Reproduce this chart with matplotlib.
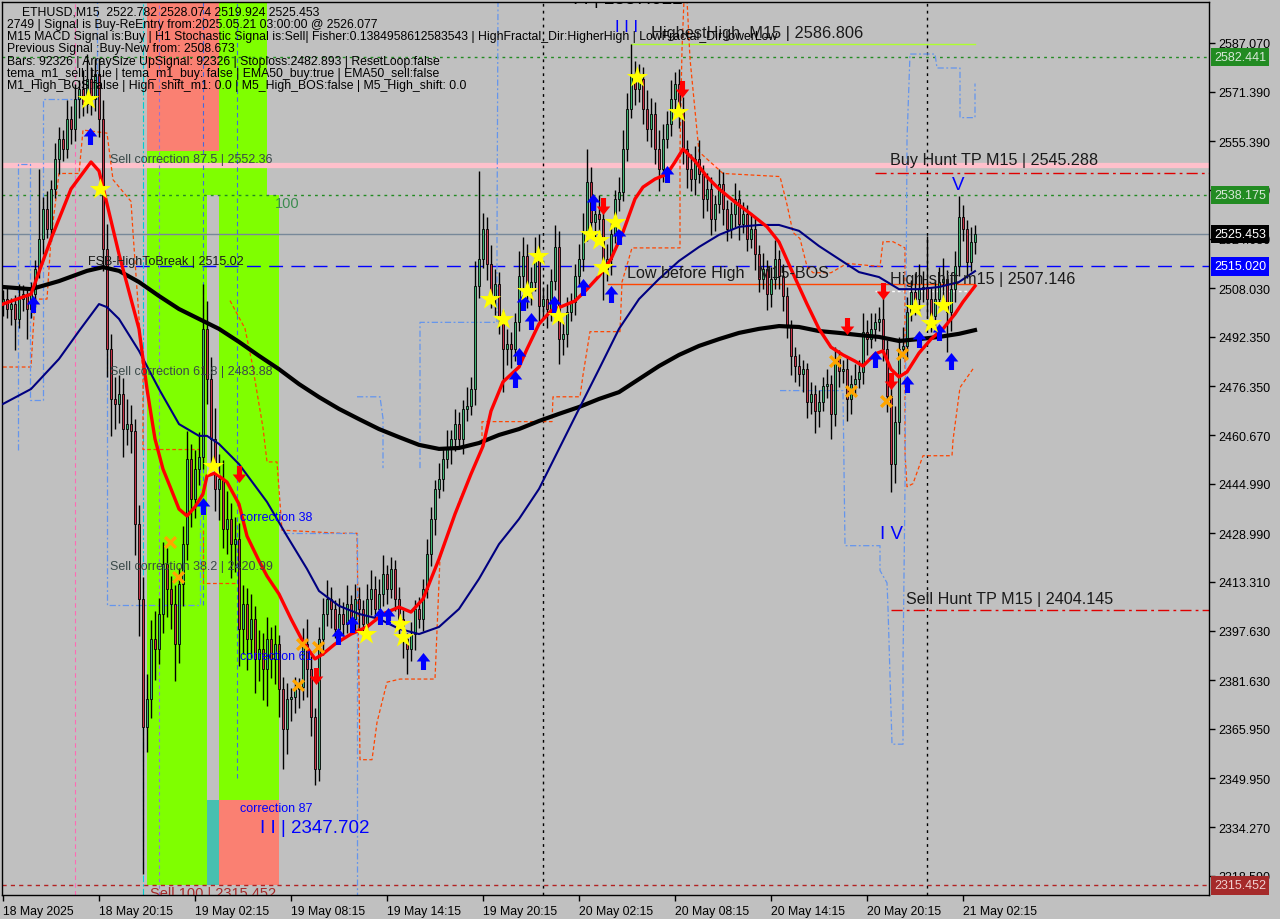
import numpy as np
import matplotlib
matplotlib.use('Agg')
import matplotlib.pyplot as plt
from matplotlib.path import Path
from matplotlib.transforms import blended_transform_factory

plt.rcParams['font.family'] = ['Liberation Sans', 'DejaVu Sans']

# ---------------- data ----------------
first_open = 2503.0
close = [2504.5, 2501.3, 2502.9, 2498.1, 2504.5, 2506.1, 2501.3, 2506.1, 2514.2, 2523.9,
         2533.5, 2527.1, 2540.0, 2549.7, 2556.1, 2552.9, 2562.6, 2559.4, 2569.0, 2572.2,
         2567.4, 2575.4, 2569.0, 2577.1, 2562.6, 2520.6, 2488.4, 2472.3, 2470.7, 2473.9,
         2462.6, 2464.2, 2462.0, 2432.0, 2407.8, 2366.5, 2375.6, 2394.9, 2391.7, 2403.0,
         2419.1, 2411.1, 2406.2, 2393.3, 2412.7, 2425.5, 2452.9, 2440.0, 2449.7, 2453.6,
         2494.9, 2478.7, 2459.4, 2443.3, 2446.5, 2430.4, 2433.6, 2425.5, 2427.2, 2398.2,
         2406.2, 2394.9, 2401.4, 2388.5, 2391.7, 2385.3, 2394.9, 2388.5, 2393.3, 2378.8,
         2365.9, 2375.6, 2376.2, 2378.8, 2379.4, 2393.3, 2385.3, 2369.8, 2353.0, 2394.9,
         2403.0, 2407.8, 2404.6, 2398.2, 2403.0, 2399.8, 2406.2, 2401.4, 2407.8, 2404.6,
         2399.8, 2407.8, 2411.1, 2404.6, 2409.4, 2415.9, 2411.1, 2417.5, 2407.8, 2401.4,
         2394.9, 2391.7, 2396.5, 2404.6, 2401.4, 2411.1, 2422.3, 2433.6, 2443.3, 2446.5,
         2452.9, 2456.2, 2459.4, 2464.2, 2459.4, 2469.1, 2470.1, 2475.5, 2508.7, 2517.4,
         2527.1, 2515.8, 2505.5, 2509.3, 2498.1, 2488.4, 2490.0, 2488.4, 2497.1, 2511.9,
         2518.4, 2507.7, 2510.0, 2517.4, 2502.2, 2504.5, 2501.3, 2510.3, 2521.3, 2491.6,
         2493.2, 2500.3, 2503.5, 2511.9, 2517.4, 2526.1, 2542.2, 2529.4, 2531.9, 2530.3,
         2514.2, 2517.4, 2525.5, 2536.8, 2539.0, 2552.9, 2565.8, 2577.1, 2572.2, 2575.4,
         2565.8, 2559.4, 2564.2, 2552.9, 2546.4, 2556.1, 2561.0, 2569.0, 2573.8, 2565.8,
         2552.9, 2546.4, 2543.2, 2549.7, 2544.8, 2536.8, 2540.0, 2530.3, 2535.2, 2541.6,
         2533.5, 2527.1, 2531.9, 2536.8, 2528.7, 2531.9, 2523.9, 2527.1, 2519.0, 2510.9,
         2514.2, 2506.1, 2510.9, 2517.4, 2511.9, 2505.5, 2495.8, 2486.1, 2482.9, 2480.4,
         2481.9, 2471.3, 2473.9, 2468.4, 2471.3, 2476.5, 2477.1, 2467.5, 2485.2, 2481.3,
         2481.9, 2472.3, 2477.1, 2478.7, 2481.0, 2493.9, 2491.6, 2494.9, 2497.1, 2498.1,
         2488.4, 2473.2, 2451.3, 2464.9, 2488.4, 2489.4, 2500.3, 2506.8, 2504.5, 2507.7,
         2508.4, 2504.5, 2499.0, 2504.5, 2510.0, 2510.9, 2500.3, 2507.7, 2515.1, 2530.9,
         2527.1, 2516.4, 2522.9, 2525.453]

wick_up = [3, 4, 2, 3, 5, 3, 2, 4, 3, 22.5,
           4, 6, 3, 5, 4, 3, 6, 4, 5, 3,
           6, 8, 4, 4.8, 5, 6, 8, 5, 7, 6,
           5, 8, 6, 4, 6, 7, 8, 6, 9, 5,
           7, 5, 4, 6, 5, 6, 9, 5, 6, 8,
           14.4, 9, 7, 10, 8, 6, 9, 5, 7, 5,
           6, 5, 8, 4, 6, 5, 7, 4, 6, 3,
           4, 5, 3, 4, 3, 5, 8, 4, 3, 4,
           5, 6, 4, 3, 5, 4, 6, 3, 5, 4,
           3, 5, 6, 4, 5, 6, 3, 4, 3, 4,
           3, 2, 4, 3, 4, 3, 5, 4, 3, 5,
           4, 6, 3, 5, 4, 3, 6, 4, 8, 28.4,
           5, 4, 6, 5, 4, 3, 5, 4, 3, 8,
           6, 4, 5, 7, 8, 4, 5, 4, 7, 5,
           4, 5, 3, 4, 5, 6, 10.7, 5, 4, 6,
           4, 5, 4, 3, 5, 6, 5, 9.7, 4, 5,
           4, 6, 5, 4, 6, 5, 4, 6, 4, 5,
           4, 3, 5, 4, 6, 3, 5, 4, 3, 5,
           4, 3, 4, 5, 3, 4, 3, 5, 4, 3,
           5, 3, 4, 6, 3, 4, 3, 2, 3, 4,
           3, 2, 4, 3, 4, 3, 5, 3, 4, 3,
           3, 4, 3, 5, 4, 6, 4, 5, 3, 4,
           9, 3, 4, 5, 4, 6, 5, 4, 6, 8,
           5, 16.4, 4, 6, 5, 7, 3, 4, 5, 6.9,
           4, 3, 5, 3]

wick_dn = [4, 3, 5, 10, 3, 4, 9.7, 3, 4, 3,
           5, 3, 4, 3, 5, 4, 3, 5, 4, 6,
           4, 3, 5, 4, 6, 7, 9, 12, 8, 6,
           9, 5, 7, 10, 12, 47.3, 8, 6, 10, 5,
           6, 9, 8, 12, 6, 7, 5, 9, 6, 5,
           4, 8, 9, 7, 10, 6, 8, 11, 9, 12,
           8, 10, 6, 11, 7, 10, 12, 6, 8, 9,
           13, 8, 7, 5, 6, 4, 9, 6, 5.3, 4,
           5, 4, 6, 3, 5, 4, 3, 5, 4, 6,
           4, 3, 5, 4, 3, 4, 5, 3, 4, 5,
           6, 8, 4, 5, 3, 4, 3, 4, 5, 3,
           4, 3, 5, 4, 3, 5, 4, 3, 5, 4,
           3, 5, 4, 6, 5, 13.9, 5, 6, 4, 3,
           4, 6, 5, 3, 5, 4, 6, 4, 3, 8,
           5, 4, 3, 4, 3, 4, 3, 5, 6, 4,
           10, 4, 5, 3, 4, 3, 4, 3, 5, 4,
           5, 4, 6, 5, 7, 4, 3, 4, 5, 6,
           5, 6, 4, 5, 3, 6, 4, 5, 4, 3,
           5, 4, 3, 4, 5, 3, 4, 3, 5, 4,
           3, 5, 4, 3, 4, 5, 4, 6, 5, 4,
           6, 5, 4, 7, 5, 3, 4, 8, 4, 5,
           4, 7, 5, 4, 3, 4, 5, 3, 4, 3,
           4, 5, 9, 6, 4, 3, 4, 3, 5, 4,
           4, 6, 5, 4, 3, 5, 12.9, 6, 4, 3,
           4, 5, 3, 4]

date_ticks = [0, 24, 48, 72, 96, 120, 144, 168, 192, 216, 240]
date_labels = ['18 May 2025', '18 May 20:15', '19 May 02:15', '19 May 08:15', '19 May 14:15',
               '19 May 20:15', '20 May 02:15', '20 May 08:15', '20 May 14:15', '20 May 20:15',
               '21 May 02:15']
price_ticks = [2587.07, 2571.39, 2555.39, 2539.71, 2524.03, 2508.03, 2492.35, 2476.35, 2460.67,
               2444.99, 2428.99, 2413.31, 2397.63, 2381.63, 2365.95, 2349.95, 2334.27, 2318.59]

# moving averages (read at key points)
ema_fast_x = [0, 7, 12, 17, 22, 24, 26, 29, 32, 34, 36, 38, 40, 42, 44, 46, 48, 50, 51, 53, 56, 59,
              61, 64, 66, 69, 72, 75, 78, 80, 83, 87, 91, 95, 99, 102, 105, 109, 113, 117, 120,
              122, 125, 129, 131, 134, 137, 140, 143, 146, 149, 152, 155, 158, 160, 163, 166, 168,
              170, 173, 176, 179, 183, 187, 191, 194, 197, 201, 204, 207, 210, 213, 215, 218, 220,
              222, 224, 226, 229, 232, 235, 238, 240, 243]
ema_fast_y = [2502.9, 2506.1, 2523.9, 2540.0, 2548.7, 2545.8, 2535.2, 2519.0, 2504.5, 2494.9,
              2475.5, 2459.4, 2449.7, 2443.3, 2436.8, 2434.6, 2437.5, 2441.7, 2447.5, 2448.4,
              2445.5, 2438.4, 2428.1, 2420.1, 2415.2, 2409.4, 2401.4, 2394.0, 2388.5, 2390.1,
              2393.3, 2396.5, 2398.8, 2403.0, 2405.2, 2403.6, 2407.8, 2420.7, 2435.2, 2448.1,
              2457.1, 2468.4, 2477.8, 2482.6, 2488.4, 2496.5, 2500.7, 2502.3, 2503.9, 2507.7,
              2511.9, 2517.4, 2526.1, 2536.8, 2540.6, 2543.2, 2544.8, 2548.7, 2552.9, 2549.0,
              2543.9, 2540.0, 2535.8, 2531.9, 2527.8, 2522.9, 2514.2, 2502.9, 2494.9, 2489.0,
              2486.5, 2484.5, 2482.9, 2486.8, 2487.8, 2481.9, 2479.4, 2481.0, 2487.1, 2491.6,
              2494.9, 2499.7, 2503.6, 2508.7]

ema_mid_x = [0, 7, 14, 19, 24, 26, 29, 34, 39, 44, 49, 51, 54, 59, 66, 71, 76, 79, 84, 89, 94, 99,
             104, 109, 114, 119, 124, 129, 134, 139, 144, 149, 154, 159, 164, 169, 174, 179, 184,
             189, 194, 199, 204, 209, 214, 219, 224, 229, 234, 239, 243]
ema_mid_y = [2470.7, 2475.5, 2485.2, 2494.2, 2502.9, 2501.9, 2498.1, 2487.8, 2475.5, 2464.2,
             2460.4, 2460.4, 2457.8, 2451.3, 2439.1, 2428.1, 2417.5, 2410.4, 2405.6, 2403.0,
             2401.4, 2398.2, 2396.5, 2398.8, 2404.6, 2414.3, 2425.5, 2433.6, 2443.3, 2456.2,
             2469.1, 2481.9, 2494.9, 2504.5, 2511.0, 2516.8, 2521.3, 2525.2, 2527.8, 2528.4,
             2528.4, 2526.5, 2521.6, 2517.4, 2513.2, 2511.6, 2507.7, 2507.7, 2508.4, 2510.0,
             2513.5]

ema_slow_x = [0, 7, 14, 21, 25, 29, 34, 39, 44, 49, 54, 59, 64, 69, 74, 79, 84, 89, 94, 99, 104,
              109, 114, 119, 124, 129, 134, 139, 144, 149, 154, 159, 164, 169, 174, 179, 184, 189,
              194, 199, 204, 209, 214, 219, 224, 229, 234, 239, 243]
ema_slow_y = [2508.4, 2507.7, 2510.3, 2513.6, 2514.8, 2513.6, 2510.0, 2505.5, 2501.3, 2498.1,
              2494.9, 2490.7, 2486.2, 2481.9, 2477.1, 2472.9, 2469.1, 2465.8, 2462.6, 2460.0,
              2457.5, 2456.2, 2456.5, 2458.1, 2460.7, 2462.6, 2465.2, 2467.5, 2469.7, 2472.3,
              2474.5, 2478.7, 2482.9, 2486.5, 2489.4, 2491.6, 2493.6, 2494.9, 2495.8, 2495.5,
              2494.2, 2493.6, 2492.9, 2492.3, 2491.0, 2491.6, 2492.3, 2493.3, 2494.5]

# signal markers
star_x = [21.25, 24.25, 52.5, 90.75, 99.25, 100, 121.75, 125, 131, 133.75, 138.75, 146.75, 149, 150,
          153, 158.5, 168.75, 228, 232, 235]
star_y = [2569.0, 2540.0, 2450.7, 2396.5, 2399.8, 2395.5, 2504.5, 2498.1, 2507.1, 2518.4, 2499.0,
          2525.5, 2523.5, 2514.9, 2529.4, 2576.1, 2564.8, 2501.6, 2496.8, 2502.6]
cross_x = [41.75, 43.75, 73.75, 74.75, 78.75, 208, 212, 220.75, 224.75]
cross_y = [2426.2, 2414.9, 2380.1, 2393.3, 2392.3, 2484.5, 2474.9, 2471.6, 2486.8]
up_x = [7.5, 21.75, 50, 83.75, 87.25, 94.25, 96.25, 105, 128, 129, 130, 132, 137.75, 145, 147.5,
        152, 154, 166, 218, 226, 229, 234, 237]
up_y = [2502.9, 2557.1, 2437.8, 2395.9, 2399.8, 2402.3, 2402.3, 2387.8, 2478.7, 2486.1, 2503.6,
        2497.4, 2502.9, 2508.4, 2535.8, 2506.1, 2524.8, 2544.8, 2485.2, 2477.1, 2491.6, 2493.9,
        2484.5]
down_x = [59, 78.25, 150, 169.75, 211, 220, 222]
down_y = [2448.1, 2383.0, 2534.5, 2572.2, 2495.8, 2507.1, 2478.1]

# channel step lines
orange_a_x = [0, 7, 8, 11, 12, 14, 19, 20, 26, 27.5, 32, 32.5, 35, 35, 49.25]
orange_a_y = [2482.6, 2482.6, 2504.5, 2504.5, 2524, 2545, 2545, 2559, 2558, 2543, 2536, 2526, 2480,
              2456, 2456]
orange_b_x = [50, 50, 58.5]
orange_b_y = [2430, 2413, 2413]
orange_c_x = [56.75, 60.5, 62.25, 65, 66, 68.5, 69.75, 84.25, 88.5, 89.25, 92.25, 93.5, 96, 99.25,
              108, 109.25, 114.25, 119.75, 119.75, 137.25, 137.5, 144.25, 145, 146.75, 154.25,
              154.75, 157.25, 169.25, 169.25, 169.75, 170.25]
orange_c_y = [2504, 2495, 2484, 2463, 2452, 2452, 2430, 2429, 2429, 2356, 2356, 2368, 2381, 2382,
              2382, 2421, 2440, 2456, 2465, 2465, 2473, 2473, 2480, 2494, 2494, 2510, 2521, 2521,
              2553, 2585, 2601]
orange_d_x = [171, 171.75, 174, 180, 194.25, 196, 197.5, 199.25, 201, 202.5, 207, 211, 219.25, 220,
              222.5, 225.5, 225.5, 226, 227.5, 230, 237.25, 237.5, 239.25, 242.5]
orange_d_y = [2601, 2582, 2552, 2545, 2544, 2535, 2526, 2524, 2515, 2513, 2513, 2516, 2515, 2523,
              2523, 2521, 2455, 2444, 2445, 2454, 2454, 2459, 2476, 2482]

blue_a_x = [26, 26, 49.25, 49.25]
blue_a_y = [2511, 2406, 2406, 2454]
blue_b_x = [70, 88.5, 88.5]
blue_b_y = [2429, 2429, 2312]
blue_c_x = [88.5, 94.25, 95, 95]
blue_c_y = [2473, 2473, 2466, 2450]
blue_d_x = [104.25, 104.25, 123.5, 123.5, 123.75]
blue_d_y = [2450, 2497, 2497, 2524, 2601]
blue_e_x = [194.25, 210, 210.5, 219.25, 219.25, 221, 221.25, 222.25, 225, 225, 225.5, 226, 226.75,
            233, 233.5, 239.25, 239.25, 243, 243]
blue_e_y = [2475, 2475, 2425, 2425, 2417, 2413, 2405, 2361, 2361, 2387, 2444, 2556, 2583.5, 2583.5,
            2579, 2579, 2563, 2563, 2574]
blue_f_x = [3.75, 3.75, 6.75, 6.75, 10, 10, 23.5, 23.5]
blue_f_y = [2456, 2548, 2548, 2472, 2472, 2569, 2569, 2601]

header = ['2749 | Signal is Buy-ReEntry from:2025.05.21 03:00:00 @ 2526.077',
          'M15 MACD Signal is:Buy | H1 Stochastic Signal is:Sell| Fisher:0.1384958612583543 | '
          'HighFractal_Dir:HigherHigh | LowFractal_Dir:lowerLow',
          'Previous Signal :Buy-New from: 2508.673',
          'Bars: 92326 | ArraySize UpSignal: 92326 | Stoploss:2482.893 | ResetLoop:false',
          'tema_m1_sell: true | tema_m1_buy: false | EMA50_buy:true | EMA50_sell:false',
          'M1_High_BOS:false | High_shift_m1: 0.0 | M5_High_BOS:false | M5_High_shift: 0.0']

# ---------------- figure ----------------
BG = '#C0C0C0'
fig = plt.figure(figsize=(12.8, 9.2), dpi=100, facecolor=BG)
ax = fig.add_axes([2 / 1280, 24 / 920, 1207 / 1280, 893 / 920], facecolor=BG)
ax.set_xlim(-0.25, 301.5)
ax.set_ylim(2312.38, 2600.28)
top = 2600.28

# fibo correction zones
def zone(x0, x1, y0, y1, color):
    ax.fill_between([x0, x1], [y0, y0], [y1, y1], color=color, lw=0, zorder=0.5)

zone(36, 54, 2552.36, top, '#FA8072')
zone(54, 66, 2538.175, top, '#7FFF00')
zone(36, 66, 2538.175, 2552.36, '#7FFF00')
zone(36, 51, 2315.452, 2538.175, '#7FFF00')
zone(54, 69, 2343.0, 2538.175, '#7FFF00')
zone(51, 54, 2315.452, 2343.0, '#48C0B0')
zone(54, 69, 2315.452, 2343.0, '#FA8072')

# horizontal levels
ax.axhline(2547.8, color='#FFC0CB', lw=3.8, zorder=1)
ax.axhline(2538.175, color='#228B22', lw=1, ls=(0, (2, 3)), zorder=1)
ax.axhline(2582.441, color='#228B22', lw=1, ls=(0, (2, 3)), zorder=1)
ax.axhline(2525.453, color='#778899', lw=1, zorder=1)
ax.axhline(2515.02, color='#0000FF', lw=1, ls=(0, (10, 6)), zorder=1)
ax.axhline(2315.452, color='#B22222', lw=1, ls=(0, (3, 3)), zorder=1)
ax.plot([218, 301.5], [2545.288, 2545.288], color='#E00000', lw=1, ls=(0, (8, 3, 2, 3)), zorder=1)
ax.plot([222, 301.5], [2404.145, 2404.145], color='#E00000', lw=1, ls=(0, (8, 3, 2, 3)), zorder=1)
ax.plot([151.25, 243], [2509.4, 2509.4], color='#FF4500', lw=1, zorder=1)
ax.plot([218, 243], [2507.146, 2507.146], color='white', lw=1, ls=(0, (2, 2)), zorder=1)
ax.plot([157, 243], [2586.806, 2586.806], color='#ADFF2F', lw=1, zorder=1)

# vertical lines
ax.axvline(135, color='black', lw=1, ls=(0, (2, 3)), zorder=1)
ax.axvline(231, color='black', lw=1, ls=(0, (2, 3)), zorder=1)
ax.axvline(18, color='#FF69B4', lw=0.8, ls=(0, (4, 3)), zorder=1)
ax.axvline(35, color='#00CED1', lw=0.8, ls=(0, (6, 2, 2, 2)), zorder=1)
ax.axvline(39, color='#9370DB', lw=0.8, ls=(0, (3, 3)), zorder=1)
ax.plot([50, 50], [2406, top], color='#4169E1', lw=0.8, ls=(0, (4, 3)), zorder=1)
ax.plot([58.5, 58.5], [2350, top], color='#4169E1', lw=0.8, ls=(0, (4, 3)), zorder=1)

# channel step lines
for xs, ys in [(orange_a_x, orange_a_y), (orange_b_x, orange_b_y),
               (orange_c_x, orange_c_y), (orange_d_x, orange_d_y)]:
    ax.plot(xs, ys, color='#FF4500', lw=0.9, ls=(0, (3, 2)), zorder=1.2)
for xs, ys in [(blue_a_x, blue_a_y), (blue_b_x, blue_b_y), (blue_c_x, blue_c_y),
               (blue_d_x, blue_d_y), (blue_e_x, blue_e_y), (blue_f_x, blue_f_y)]:
    ax.plot(xs, ys, color='#6495ED', lw=0.9, ls=(0, (5, 2, 1.5, 2)), zorder=1.2)

# candles
c = np.array(close)
o = np.concatenate([[first_open], c[:-1]])
idx = np.arange(len(c))
hi = np.maximum(o, c) + np.array(wick_up)
lo = np.minimum(o, c) - np.array(wick_dn)
ax.vlines(idx, lo, hi, color='black', lw=1, zorder=2)
bull = c >= o
ax.bar(idx[bull], (c - o)[bull], bottom=o[bull], width=0.62, color='#3CB371',
       edgecolor='black', lw=0.6, zorder=2.1)
ax.bar(idx[~bull], (c - o)[~bull], bottom=o[~bull], width=0.62, color='#C83246',
       edgecolor='black', lw=0.6, zorder=2.1)

# moving averages
ax.plot(ema_slow_x, ema_slow_y, color='black', lw=3, zorder=3)
ax.plot(ema_mid_x, ema_mid_y, color='#000080', lw=1.5, zorder=3)
ax.plot(ema_fast_x, ema_fast_y, color='#FF0000', lw=2.4, zorder=3.1)

# markers
arrow = Path([(-0.3, -1), (0.3, -1), (0.3, 0.0), (0.8, 0.0), (0, 1), (-0.8, 0.0),
              (-0.3, 0.0), (-0.3, -1)], closed=True)
arrow_dn = Path([(x, -y) for x, y in arrow.vertices], closed=True)
ax.scatter(up_x, up_y, marker=arrow, s=150, color='#0000FF', zorder=4, lw=0)
ax.scatter(down_x, down_y, marker=arrow_dn, s=150, color='#FF0000', zorder=4, lw=0)
ax.scatter(cross_x, cross_y, marker='x', s=60, color='#FFA500', lw=2.4, zorder=4)
ax.scatter(star_x, star_y, marker='*', s=260, color='#FFFF00', lw=0, zorder=4)

# chart labels
gray = '#3A4848'
dark = '#1A1A1A'
ax.text(26.75, 2549.7, 'Sell correction 87.5 | 2552.36', color=gray, fontsize=9, va='center', zorder=5)
ax.text(26.75, 2481.3, 'Sell correction 61.8 | 2483.88', color=gray, fontsize=9, va='center', zorder=5)
ax.text(26.75, 2418.5, 'Sell correction 38.2 | 2420.99', color=gray, fontsize=9, va='center', zorder=5)
ax.text(36.75, 2313.0, 'Sell 100 | 2315.452', color='#A52A2A', fontsize=10.5, va='center', zorder=5, clip_on=True)
ax.text(68, 2535.5, '100', color='#3C8C50', fontsize=10.5, va='center', zorder=5)
ax.text(21.25, 2516.8, 'FSB-HighToBreak | 2515.02', color=dark, fontsize=9, va='center', zorder=5)
ax.text(59.25, 2434.2, 'correction 38', color='#0000FF', fontsize=9, va='center', zorder=5)
ax.text(59.25, 2389.4, 'correction 61', color='#0000FF', fontsize=9, va='center', zorder=5)
ax.text(59.25, 2340.4, 'correction 87', color='#0000FF', fontsize=9, va='center', zorder=5)
ax.text(64.25, 2334.3, 'I I | 2347.702', color='#0000FF', fontsize=13.5, va='center', zorder=5)
ax.text(142.5, 2601.5, 'I I | 2587.022', color='black', fontsize=13.5, va='center', zorder=5, clip_on=True)
ax.text(153, 2592.5, 'I I I', color='#0000FF', fontsize=12, va='center', zorder=5)
ax.text(162, 2590.6, 'HighestHigh  M15 | 2586.806', color=dark, fontsize=11.8, va='center', zorder=5)
ax.text(221.75, 2549.4, 'Buy Hunt TP M15 | 2545.288', color=dark, fontsize=11.6, va='center', zorder=5)
ax.text(225.75, 2408.1, 'Sell Hunt TP M15 | 2404.145', color=dark, fontsize=11.6, va='center', zorder=5)
ax.text(156, 2513.2, 'Low before High   M15-BOS', color=dark, fontsize=11.6, va='center', zorder=5)
ax.text(221.75, 2511.0, 'High-shift m15 | 2507.146', color=dark, fontsize=11.6, va='center', zorder=5)
ax.text(238.75, 2541.6, 'V', color='#0000FF', fontsize=13.5, va='center', ha='center', zorder=5)
ax.text(219.25, 2428.8, 'I V', color='#0000FF', fontsize=13.5, va='center', zorder=5)

# header text
fig.text(22 / 1280, 1 - 12.7 / 920, 'ETHUSD,M15  2522.782 2528.074 2519.924 2525.453',
         fontsize=8.8, va='center', color='black')
for k, line in enumerate(header):
    fig.text(7 / 1280, 1 - (25 + 12.2 * k) / 920, line, fontsize=8.8, va='center', color='black')

# axes styling
for sp in ax.spines.values():
    sp.set_color('black')
    sp.set_linewidth(1)
ax.yaxis.tick_right()
ax.set_yticks(price_ticks)
ax.set_yticklabels(['%.3f' % v for v in price_ticks])
ax.set_xticks(date_ticks)
ax.set_xticklabels(date_labels, ha='left')
ax.tick_params(axis='y', direction='out', length=4, width=1, labelsize=9, pad=3, colors='black')
ax.tick_params(axis='x', direction='out', length=4, width=1, labelsize=8.8, pad=3, colors='black')

# price tags on the right
tr = blended_transform_factory(ax.transAxes, ax.transData)
tags = [(2582.441, '#228B22', '#D8E8D8'), (2538.175, '#228B22', '#D8E8D8'),
        (2525.453, 'black', 'white'), (2515.02, '#0000FF', 'white'),
        (2315.452, '#A52A2A', '#F0D0D0')]
for val, fc, tc in tags:
    ax.text(1.004, val, '%.3f' % val, transform=tr, color=tc, fontsize=9, va='center',
            ha='left', clip_on=False, zorder=6,
            bbox=dict(boxstyle='square,pad=0.25', fc=fc, ec='none'))

fig.savefig('out.png', dpi=100, facecolor=BG)
